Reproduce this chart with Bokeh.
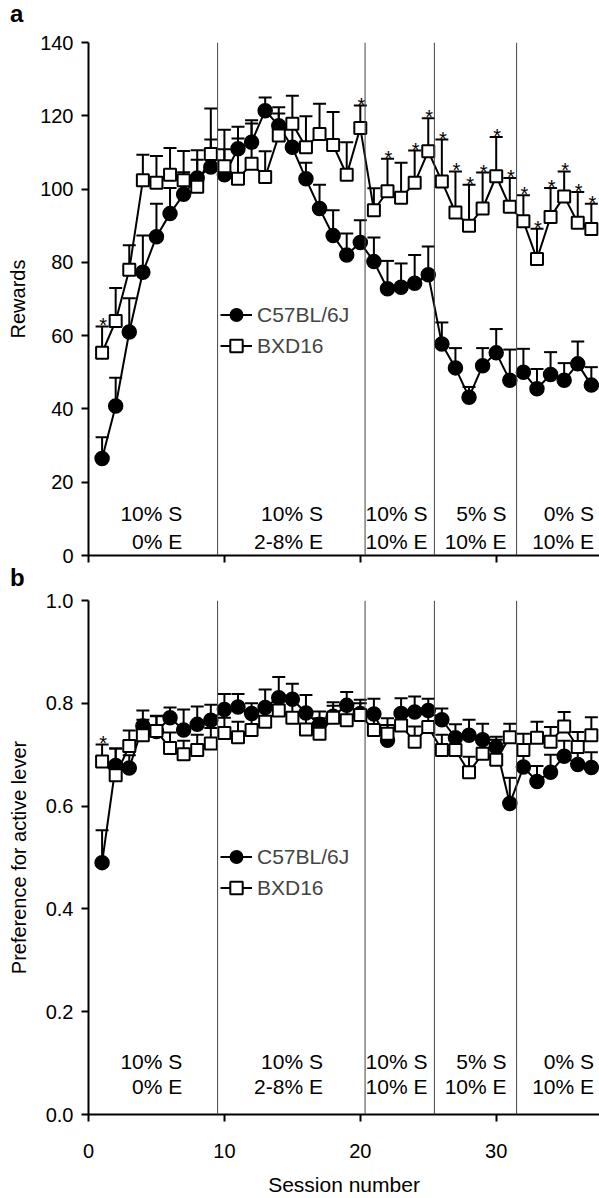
from bokeh.plotting import figure
from bokeh.models import Range1d, Span, Label, Legend, LegendItem, FixedTicker, NumeralTickFormatter, ColumnDataSource, Div
from bokeh.layouts import column
from bokeh.embed import file_html
from bokeh.resources import INLINE
from bokeh.core.properties import value

FONT = "Liberation Sans"

# ---------------- data ----------------
sessions = list(range(1, 38))

c57_rewards = [26.5, 40.8, 61.0, 77.3, 87.0, 93.3, 98.6, 103.0, 106.0, 103.9,
               111.0, 112.8, 121.4, 117.3, 111.4, 102.8, 94.7, 87.3, 82.0, 85.4,
               80.2, 72.8, 73.2, 74.3, 76.6, 57.7, 51.2, 43.2, 51.8, 55.3,
               47.8, 50.0, 45.5, 49.4, 47.8, 52.3, 46.5]
c57_rewards_sem = [5.8, 7.7, 9.2, 10.0, 9.0, 7.0, 6.0, 5.0, 7.5, 7.0,
                   6.0, 6.0, 3.6, 5.0, 6.0, 4.4, 6.5, 6.9, 5.9, 6.1,
                   6.6, 7.6, 6.5, 7.7, 7.7, 5.9, 5.4, 2.8, 4.8, 6.5,
                   8.4, 6.4, 5.4, 6.1, 4.7, 6.1, 4.9]
bxd_rewards = [55.3, 64.0, 78.0, 102.4, 101.7, 103.9, 102.4, 100.6, 109.6, 106.2,
               102.8, 106.9, 103.3, 114.6, 117.8, 111.4, 115.0, 112.0, 103.9, 116.7,
               94.2, 99.4, 97.6, 101.7, 110.3, 102.1, 93.6, 90.0, 94.7, 103.5,
               95.2, 91.2, 80.9, 92.4, 98.0, 90.8, 89.1]
bxd_rewards_sem = [7.2, 9.0, 6.7, 7.0, 7.3, 7.3, 8.0, 10.0, 12.4, 10.0,
                   11.0, 11.0, 7.0, 6.0, 7.7, 8.5, 8.3, 9.0, 8.9, 6.1,
                   6.0, 8.9, 9.6, 8.8, 9.0, 11.4, 11.2, 11.2, 9.8, 10.7,
                   7.8, 7.1, 8.3, 7.9, 6.8, 8.4, 6.9]
rewards_star_sessions = [1, 20, 22, 24, 25, 26, 27, 28, 29, 30, 31, 32, 33, 34, 35, 36, 37]

c57_pref = [0.490, 0.679, 0.674, 0.756, 0.745, 0.772, 0.748, 0.759, 0.767, 0.788,
            0.793, 0.780, 0.792, 0.811, 0.808, 0.781, 0.759, 0.775, 0.796, 0.780,
            0.779, 0.728, 0.780, 0.783, 0.786, 0.768, 0.733, 0.738, 0.729, 0.715,
            0.605, 0.676, 0.648, 0.666, 0.697, 0.681, 0.675]
c57_pref_sem = [0.063, 0.033, 0.025, 0.030, 0.030, 0.020, 0.040, 0.035, 0.030, 0.030,
                0.025, 0.020, 0.035, 0.040, 0.030, 0.035, 0.025, 0.020, 0.026, 0.020,
                0.030, 0.030, 0.030, 0.030, 0.023, 0.022, 0.026, 0.030, 0.031, 0.020,
                0.050, 0.025, 0.030, 0.034, 0.030, 0.030, 0.030]
bxd_pref = [0.687, 0.660, 0.717, 0.738, 0.746, 0.713, 0.701, 0.709, 0.722, 0.742,
            0.734, 0.748, 0.764, 0.786, 0.772, 0.749, 0.741, 0.772, 0.767, 0.777,
            0.748, 0.741, 0.757, 0.725, 0.754, 0.709, 0.709, 0.666, 0.702, 0.690,
            0.734, 0.709, 0.733, 0.725, 0.755, 0.715, 0.738]
bxd_pref_sem = [0.033, 0.052, 0.030, 0.030, 0.030, 0.030, 0.026, 0.030, 0.030, 0.030,
                0.030, 0.030, 0.030, 0.030, 0.030, 0.030, 0.030, 0.030, 0.030, 0.030,
                0.030, 0.030, 0.030, 0.030, 0.030, 0.030, 0.030, 0.030, 0.030, 0.039,
                0.026, 0.032, 0.031, 0.029, 0.028, 0.029, 0.035]
pref_star_sessions = [1]

phase_bounds = [9.5, 20.35, 25.45, 31.5]
phase_line1 = ["10% S", "10% S", "10% S", "5% S", "0% S"]
phase_line2 = ["0% E", "2-8% E", "10% E", "10% E", "10% E"]

reward_ticks = [0, 20, 40, 60, 80, 100, 120, 140]
pref_ticks = [0.0, 0.2, 0.4, 0.6, 0.8, 1.0]
session_ticks = [0, 10, 20, 30]

# layout constants
PHASE_LABEL_X = [6.9, 17.25, 24.94, 30.76, 37.2]
X_END = 37.6


def panel_letter(letter, height, pad_top):
    html = ('<div style="font-family:\'Liberation Sans\',Arial,sans-serif;font-size:24px;'
            'font-weight:bold;line-height:20px;margin:0;padding:%dpx 0 0 10px;color:black;">%s</div>'
            % (pad_top, letter))
    return Div(text=html, width=599, height=height, margin=0)


def make_panel(height, border_top, border_bottom, y_end, yticks, ylabel,
               c57, c57_sem, bxd, bxd_sem, stars,
               row_y, legend_y, show_x, y_fmt, ylabel_standoff):
    p = figure(width=599, height=height, x_range=Range1d(0, X_END),
               y_range=Range1d(0, y_end), output_backend="svg",
               toolbar_location=None, min_border_left=88, min_border_right=0,
               min_border_top=border_top, min_border_bottom=border_bottom)
    p.outline_line_color = None
    p.xgrid.visible = False
    p.ygrid.visible = False
    p.background_fill_color = "white"

    for ax in (p.xaxis[0], p.yaxis[0]):
        ax.axis_line_width = 2
        ax.axis_line_color = "black"
        ax.major_tick_line_width = 2
        ax.major_tick_line_color = "black"
        ax.major_tick_out = 7
        ax.major_tick_in = 0
        ax.minor_tick_line_color = None
        ax.major_label_text_font = FONT
        ax.major_label_text_font_size = "20px"
        ax.major_label_text_color = "black"
        ax.axis_label_text_font = FONT
        ax.axis_label_text_font_size = "20px"
        ax.axis_label_text_font_style = "normal"
        ax.axis_label_text_color = "black"

    p.yaxis.ticker = FixedTicker(ticks=yticks)
    p.yaxis.formatter = NumeralTickFormatter(format=y_fmt)
    p.yaxis.axis_label = ylabel
    p.yaxis.major_label_standoff = 8
    p.yaxis.axis_label_standoff = ylabel_standoff

    p.xaxis.ticker = FixedTicker(ticks=session_ticks)
    if show_x:
        p.xaxis.axis_label = "Session number"
        p.xaxis.axis_label_text_font_size = "21px"
        p.xaxis.major_label_standoff = 22
        p.xaxis.axis_label_standoff = 12
    else:
        p.xaxis.major_label_overrides = {t: "" for t in session_ticks}
        p.xaxis.major_label_text_font_size = "0px"
        p.xaxis.major_label_standoff = 0

    for b in phase_bounds:
        p.add_layout(Span(location=b, dimension="height", line_color="#444444", line_width=1))

    for xl, t1, t2 in zip(PHASE_LABEL_X, phase_line1, phase_line2):
        for txt, yy in ((t1, row_y[0]), (t2, row_y[1])):
            p.add_layout(Label(x=xl, y=yy, text=txt, text_align="right", text_baseline="middle",
                               text_font=FONT, text_font_size="21px", text_color="black"))

    c57_top = [v + e for v, e in zip(c57, c57_sem)]
    bxd_top = [v + e for v, e in zip(bxd, bxd_sem)]
    src_c = ColumnDataSource(dict(x=sessions, y=c57, top=c57_top))
    src_b = ColumnDataSource(dict(x=sessions, y=bxd, top=bxd_top))

    # error bars (upper only)
    p.segment(x0="x", y0="y", x1="x", y1="top", source=src_c, line_color="black", line_width=2)
    p.scatter(x="x", y="top", source=src_c, marker="dash", size=13, line_color="black", line_width=2)
    rl_c = p.line(x="x", y="y", source=src_c, line_color="black", line_width=2)
    rm_c = p.scatter(x="x", y="y", source=src_c, marker="circle", size=14,
                     fill_color="black", line_color="black", line_width=1.5)

    p.segment(x0="x", y0="y", x1="x", y1="top", source=src_b, line_color="black", line_width=2)
    p.scatter(x="x", y="top", source=src_b, marker="dash", size=13, line_color="black", line_width=2)
    rl_b = p.line(x="x", y="y", source=src_b, line_color="black", line_width=2)
    rm_b = p.scatter(x="x", y="y", source=src_b, marker="square", size=12,
                     fill_color="white", line_color="black", line_width=2)

    star_x = [s for s in stars]
    star_y = [bxd_top[s - 1] for s in stars]
    p.text(x=star_x, y=star_y, text=["*"] * len(star_x), text_font=value(FONT),
           text_font_size="20px", text_align="center", text_baseline="alphabetic",
           x_offset=1, y_offset=-1, text_color="black")

    legend = Legend(items=[LegendItem(label="C57BL/6J", renderers=[rl_c, rm_c]),
                           LegendItem(label="BXD16", renderers=[rl_b, rm_b])],
                    location=(132, legend_y), orientation="vertical",
                    padding=0, margin=0, spacing=0, glyph_width=32, glyph_height=31,
                    label_height=31, label_standoff=5,
                    label_text_font=FONT, label_text_font_size="21px",
                    border_line_alpha=0, background_fill_alpha=0)
    p.add_layout(legend)
    return p


div_a = panel_letter("a", 24, 4)
p1 = make_panel(543, 18, 12, 140, reward_ticks, "Rewards",
                c57_rewards, c57_rewards_sem, bxd_rewards, bxd_rewards_sem,
                rewards_star_sessions, (11.5, 3.9), 194, False, "0", 8)
div_b = panel_letter("b", 21, 1)
p2 = make_panel(610, 12, 84, 1.0, pref_ticks, "Preference for active lever",
                c57_pref, c57_pref_sem, bxd_pref, bxd_pref_sem,
                pref_star_sessions, (0.103, 0.0545), 211, True, "0.0", 13)

layout = column(div_a, p1, div_b, p2, spacing=0)
open("out.html", "w").write(file_html(layout, INLINE))
